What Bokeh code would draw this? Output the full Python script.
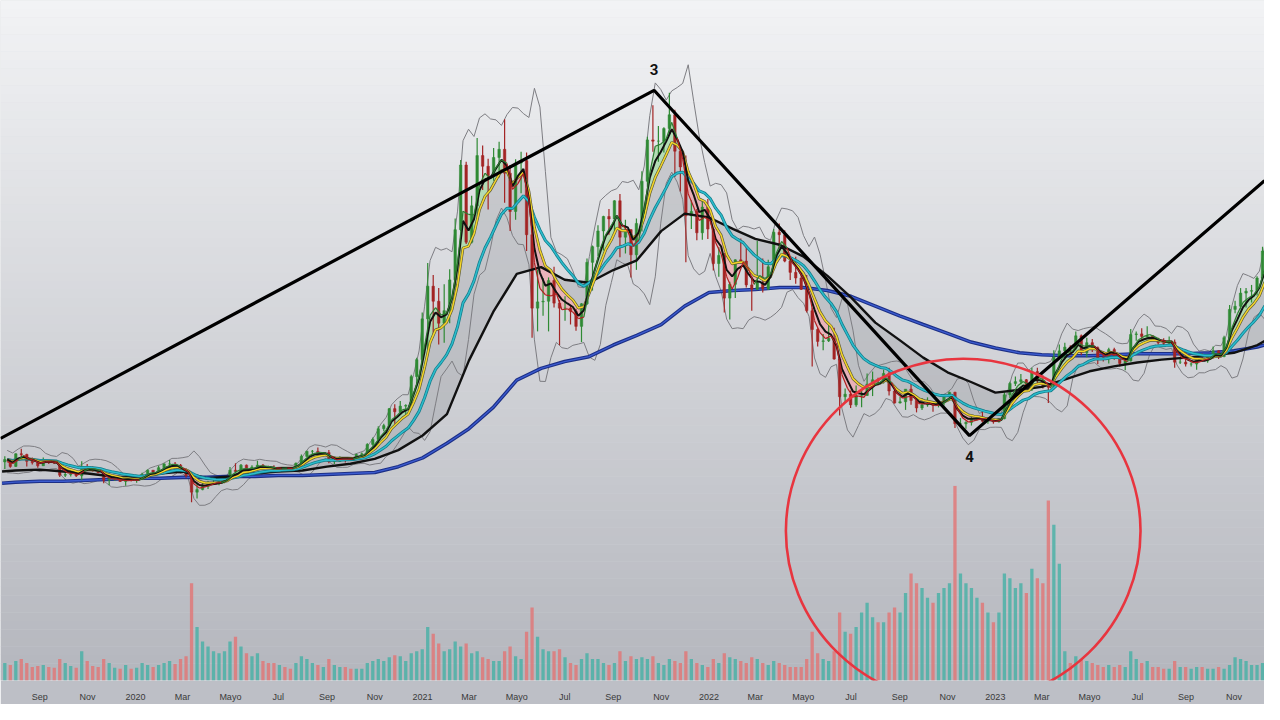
import numpy as np
import pandas as pd
from bokeh.plotting import figure
from bokeh.models import Range1d, LinearAxis, FixedTicker, ColumnDataSource
from bokeh.core.properties import value
from bokeh.embed import file_html
from bokeh.resources import INLINE

# ---------------- data (BTC, weekly, thousands of USD) ----------------
first_week = "2019-07-15"
first_open = 10.2

close_2019 = [10.6, 9.5, 11.5, 11.4, 10.3, 10.1, 9.6, 10.4, 10.3, 10.0, 8.1, 8.2, 8.3, 8.0, 9.5, 9.2, 8.8, 8.5, 7.3, 7.5, 7.5, 7.1, 7.5, 7.3, 7.4]
high_2019 = [11.1, 10.6, 11.6, 12.3, 11.5, 10.9, 10.6, 10.9, 10.5, 10.4, 10.0, 8.5, 8.7, 8.4, 10.3, 9.9, 9.5, 9.2, 8.6, 7.8, 7.6, 7.6, 7.6, 7.7, 7.6]
low_2019 = [9.1, 9.3, 9.4, 11.0, 9.5, 9.8, 9.3, 9.6, 9.9, 9.9, 7.8, 7.8, 7.9, 7.8, 7.3, 9.0, 8.7, 8.4, 6.8, 6.5, 7.2, 7.0, 6.4, 7.1, 6.9]

close_2020 = [8.2, 8.9, 8.6, 9.3, 9.9, 9.9, 9.7, 8.5, 8.0, 5.4, 5.8, 6.3, 6.8, 6.9, 7.1, 7.7, 8.9, 8.7, 9.7, 8.9, 9.4, 9.7, 9.4, 9.3, 9.0, 9.3, 9.25, 9.2, 10.0, 11.1, 11.9, 11.9, 11.6, 11.7, 10.3, 10.3, 10.9, 10.8, 10.7, 11.4, 11.5, 13.0, 13.8, 15.5, 16.0, 18.7, 18.2, 19.1, 19.2, 23.8, 26.5, 33.0]
high_2020 = [8.5, 9.0, 8.9, 9.6, 10.0, 10.5, 10.2, 9.9, 9.2, 8.1, 6.9, 6.9, 7.2, 7.5, 7.2, 7.8, 9.4, 10.0, 9.9, 9.8, 9.7, 10.4, 9.9, 9.6, 9.7, 9.3, 9.4, 9.3, 10.1, 11.4, 12.0, 12.1, 12.5, 11.8, 12.1, 10.6, 11.1, 11.0, 10.9, 11.5, 11.7, 13.2, 14.1, 15.9, 16.3, 18.8, 19.4, 19.9, 19.4, 24.1, 26.8, 34.0]
low_2020 = [7.4, 8.1, 8.3, 8.3, 9.1, 9.7, 9.3, 8.4, 7.7, 3.8, 4.4, 5.7, 5.9, 6.7, 6.5, 6.8, 7.6, 8.6, 8.2, 8.8, 8.6, 9.3, 9.2, 9.2, 8.9, 8.9, 9.1, 9.0, 9.1, 10.0, 11.0, 11.2, 11.3, 11.1, 10.0, 9.9, 10.2, 10.1, 10.4, 10.6, 11.2, 11.4, 12.8, 13.2, 15.1, 15.8, 16.3, 18.0, 17.6, 19.0, 22.4, 26.1]

close_2021 = [38.2, 35.8, 32.3, 34.3, 39.2, 47.2, 57.5, 45.2, 51.0, 59.0, 57.3, 55.8, 58.7, 60.0, 56.2, 50.1, 57.8, 58.2, 46.4, 34.7, 35.7, 35.8, 39.1, 35.5, 34.7, 34.7, 34.2, 31.8, 35.4, 42.0, 44.5, 47.0, 49.3, 48.9, 51.8, 46.0, 47.2, 43.2, 48.2, 54.9, 61.5, 61.3, 61.3, 63.3, 65.5, 59.7, 57.2, 49.4, 50.1, 46.7, 50.8, 47.3]
high_2021 = [41.9, 40.0, 37.9, 38.5, 40.9, 49.0, 58.3, 58.0, 52.6, 61.8, 60.6, 58.5, 60.2, 61.2, 64.8, 57.5, 58.4, 59.6, 59.5, 46.0, 40.8, 39.5, 39.6, 41.3, 36.0, 36.6, 35.1, 34.6, 35.5, 42.6, 44.7, 47.9, 49.4, 50.5, 51.9, 52.9, 48.8, 47.3, 49.0, 56.5, 62.0, 67.0, 63.7, 63.5, 69.0, 66.3, 59.8, 59.0, 51.9, 50.5, 51.9, 52.1]
low_2021 = [28.0, 30.4, 28.9, 29.2, 32.3, 38.0, 47.0, 44.9, 45.0, 49.3, 53.5, 50.4, 55.0, 55.5, 51.5, 47.0, 48.8, 53.0, 43.8, 30.0, 31.0, 33.5, 31.0, 34.8, 28.8, 32.7, 32.1, 31.1, 29.3, 35.2, 37.5, 43.0, 43.9, 46.4, 46.8, 42.8, 43.4, 39.6, 40.8, 46.9, 53.9, 59.6, 58.0, 59.5, 62.3, 55.6, 53.3, 42.0, 47.3, 45.5, 45.6, 45.7]

close_2022 = [41.8, 43.1, 36.3, 38.5, 42.4, 42.2, 38.4, 37.7, 38.8, 37.8, 41.3, 46.8, 46.4, 42.2, 40.4, 39.5, 37.7, 34.3, 31.3, 29.4, 29.5, 29.9, 26.6, 20.6, 21.0, 19.3, 20.8, 20.8, 22.6, 23.3, 23.2, 24.3, 21.5, 19.6, 19.8, 21.8, 20.0, 18.8, 19.3, 19.4, 19.2, 19.6, 20.6, 21.3, 16.3, 16.3, 16.5, 17.1, 17.1, 16.7, 16.8, 16.6]
high_2022 = [47.5, 44.4, 43.5, 38.9, 42.5, 45.8, 44.7, 39.8, 45.4, 42.6, 42.4, 47.3, 48.2, 47.1, 42.4, 42.9, 40.8, 40.0, 34.7, 31.5, 30.6, 32.2, 31.6, 26.9, 21.9, 21.6, 22.4, 21.5, 24.3, 24.6, 23.6, 24.9, 25.2, 21.9, 20.6, 21.8, 22.8, 19.9, 20.4, 20.5, 19.6, 19.7, 21.0, 21.4, 21.4, 17.2, 16.7, 17.4, 17.4, 18.4, 17.0, 16.9]
low_2022 = [40.7, 39.7, 34.0, 32.9, 36.3, 41.8, 38.0, 34.3, 37.6, 37.2, 37.6, 40.9, 44.3, 42.0, 39.2, 38.6, 37.6, 34.0, 25.4, 28.6, 28.0, 29.3, 26.5, 17.6, 19.7, 18.8, 19.0, 18.9, 20.7, 20.7, 22.4, 22.7, 20.8, 19.5, 19.5, 18.5, 19.3, 18.1, 18.5, 19.0, 18.2, 18.9, 19.2, 20.0, 15.6, 15.8, 15.5, 16.0, 16.8, 16.5, 16.3, 16.3]

close_2023 = [17.1, 20.9, 22.7, 23.0, 23.3, 21.8, 24.6, 23.2, 22.4, 22.1, 26.9, 27.9, 28.5, 28.3, 30.3, 27.6, 29.2, 28.4, 26.8, 26.7, 28.1, 27.1, 25.9, 26.3, 30.5, 30.6, 30.2, 30.3, 29.8, 29.2, 29.1, 29.3, 26.1, 26.1, 25.8, 25.8, 26.5, 26.3, 27.0, 27.9, 27.0, 30.0, 34.5, 35.0, 37.1, 37.4, 37.5, 39.5, 43.8]
high_2023 = [17.2, 21.3, 23.0, 23.8, 24.2, 23.4, 25.2, 25.2, 24.0, 22.6, 28.0, 28.9, 29.2, 28.8, 31.0, 30.5, 30.0, 29.8, 28.6, 27.6, 28.4, 28.4, 27.4, 26.8, 31.4, 31.0, 31.5, 31.8, 30.4, 30.0, 29.9, 30.2, 29.7, 26.8, 28.1, 26.1, 27.0, 27.5, 27.2, 28.6, 28.0, 30.3, 35.2, 35.9, 37.9, 37.9, 38.4, 39.8, 44.5]
low_2023 = [16.5, 17.0, 20.4, 22.3, 22.6, 21.4, 21.5, 22.8, 21.9, 19.6, 21.8, 26.6, 26.6, 27.2, 28.0, 27.2, 26.9, 27.7, 25.8, 26.2, 25.9, 26.5, 25.4, 24.8, 26.2, 29.5, 29.7, 29.9, 29.6, 28.9, 28.7, 28.7, 25.2, 25.8, 25.4, 25.4, 24.9, 26.2, 26.0, 27.2, 26.6, 26.9, 29.7, 33.9, 34.5, 34.8, 35.6, 36.7, 39.5]

# weekly volume (relative units)
vol_2019 = [18, 16, 20, 22, 18, 14, 15, 16, 14, 13, 22, 18, 15, 13, 30, 20, 15, 14, 22, 18, 13, 12, 16, 12, 13]
vol_2020 = [18, 16, 14, 16, 18, 20, 17, 22, 25, 100, 55, 40, 35, 30, 28, 30, 40, 45, 35, 28, 25, 28, 20, 18, 18, 16, 14, 12, 18, 25, 22, 18, 16, 14, 22, 16, 14, 14, 12, 12, 12, 18, 20, 22, 20, 24, 26, 25, 20, 28, 30, 32]
vol_2021 = [55, 48, 38, 30, 32, 40, 35, 38, 28, 30, 24, 22, 20, 20, 30, 35, 25, 22, 50, 75, 45, 32, 30, 30, 32, 24, 18, 16, 22, 28, 22, 22, 18, 16, 18, 30, 20, 25, 22, 24, 22, 25, 18, 16, 22, 20, 18, 30, 22, 18, 16, 14]
vol_2022 = [22, 18, 28, 24, 22, 20, 18, 24, 22, 18, 16, 20, 18, 16, 14, 14, 14, 22, 50, 28, 22, 20, 30, 70, 50, 48, 55, 70, 80, 65, 60, 60, 70, 75, 70, 90, 110, 100, 95, 85, 80, 90, 95, 100, 200, 110, 100, 95, 85, 80, 70, 60]
vol_2023 = [70, 110, 105, 95, 100, 90, 115, 105, 100, 185, 160, 120, 30, 18, 25, 22, 20, 18, 16, 14, 16, 14, 16, 14, 30, 22, 18, 20, 14, 14, 12, 12, 20, 14, 14, 12, 14, 14, 12, 12, 14, 12, 16, 24, 22, 20, 16, 16, 18]

# slow averages (monthly points)
slow_dates = ["2019-07-15", "2019-08-01", "2019-09-01", "2019-10-01", "2019-11-01", "2019-12-01",
              "2020-01-01", "2020-02-01", "2020-03-01", "2020-04-01", "2020-05-01", "2020-06-01",
              "2020-07-01", "2020-08-01", "2020-09-01", "2020-10-01", "2020-11-01", "2020-12-01",
              "2021-01-01", "2021-02-01", "2021-03-01", "2021-04-01", "2021-05-01", "2021-06-01",
              "2021-07-01", "2021-08-01", "2021-09-01", "2021-10-01", "2021-11-01", "2021-12-01",
              "2022-01-01", "2022-02-01", "2022-03-01", "2022-04-01", "2022-05-01", "2022-06-01",
              "2022-07-01", "2022-08-01", "2022-09-01", "2022-10-01", "2022-11-01", "2022-12-01",
              "2023-01-01", "2023-02-01", "2023-03-01", "2023-04-01", "2023-05-01", "2023-06-01",
              "2023-07-01", "2023-08-01", "2023-09-01", "2023-10-01", "2023-11-01", "2023-12-01",
              "2023-12-10"]
ma_long = [6.82, 6.98, 7.13, 7.13, 7.29, 7.44, 7.60, 7.60, 7.75, 7.75, 7.91, 7.91, 8.06, 8.06,
           8.22, 8.37, 8.53, 9.46, 10.85, 13.18, 15.5, 18.91, 23.25, 25.11, 26.2, 26.97, 28.83,
           30.38, 32.09, 35.03, 37.2, 37.51, 37.67, 37.98, 37.98, 37.51, 36.58, 35.03, 33.48,
           32.09, 30.69, 29.30, 28.37, 27.59, 27.28, 27.13, 27.13, 27.28, 27.44, 27.44, 27.44,
           27.59, 27.9, 28.52, 28.83]
ma_slow = [8.68, 8.84, 8.99, 8.68, 8.37, 7.91, 7.75, 8.37, 8.68, 7.60, 7.91, 8.37, 8.68, 8.84,
           9.46, 9.92, 10.70, 12.09, 14.42, 17.83, 26.35, 34.1, 40.15, 41.23, 39.22, 38.75,
           40.77, 42.32, 46.97, 49.76, 49.14, 47.28, 45.73, 44.80, 42.94, 39.84, 36.43, 32.40,
           29.61, 26.82, 24.49, 22.94, 21.24, 21.7, 22.17, 23.41, 24.65, 25.42, 26.04, 26.51,
           26.82, 27.13, 27.59, 28.83, 29.45]

# Elliott wave points
wave_dates = ["2019-07-13", "2021-10-23", "2022-11-29", "2023-12-10"]
wave_prices = [13.95, 69.4, 14.4, 55.0]
wave_labels = ["3", "4"]

# highlight circle on the volume
circle_date = "2022-11-21"
circle_price = -0.8
circle_days = 452
circle_height = 54.9

tick_dates = ["2019-09-01", "2019-11-01", "2020-01-01", "2020-03-01", "2020-05-01", "2020-07-01",
              "2020-09-01", "2020-11-01", "2021-01-01", "2021-03-01", "2021-05-01", "2021-07-01",
              "2021-09-01", "2021-11-01", "2022-01-01", "2022-03-01", "2022-05-01", "2022-07-01",
              "2022-09-01", "2022-11-01", "2023-01-01", "2023-03-01", "2023-05-01", "2023-07-01",
              "2023-09-01", "2023-11-01"]
tick_labels = ["Sep", "Nov", "2020", "Mar", "Mayo", "Jul", "Sep", "Nov", "2021", "Mar", "Mayo", "Jul",
               "Sep", "Nov", "2022", "Mar", "Mayo", "Jul", "Sep", "Nov", "2023", "Mar", "Mayo", "Jul",
               "Sep", "Nov"]

view_start, view_end = "2019-07-13", "2023-12-10"
price_lo, price_hi = -24.6, 83.7

# ---------------- derived ----------------
closes = np.array(close_2019 + close_2020 + close_2021 + close_2022 + close_2023)
highs = np.array(high_2019 + high_2020 + high_2021 + high_2022 + high_2023)
lows = np.array(low_2019 + low_2020 + low_2021 + low_2022 + low_2023)
vols = np.array(vol_2019 + vol_2020 + vol_2021 + vol_2022 + vol_2023, dtype=float)
n = len(closes)
assert len(highs) == n and len(lows) == n and len(vols) == n, (n, len(highs), len(lows), len(vols))
assert len(ma_long) == len(slow_dates) and len(ma_slow) == len(slow_dates)

ORIGIN = pd.Timestamp("2020-01-01")


def to_days(d):
    return np.asarray((pd.to_datetime(d) - ORIGIN) / pd.Timedelta(days=1), dtype=float)


weeks = pd.date_range(first_week, periods=n, freq="7D")
xw = to_days(weeks) + 3.5
xc = xw + 3.0            # indicator points sit at the weekly close
opens = np.concatenate([[first_open], closes[:-1]])
up = closes >= opens

cs = pd.Series(closes)
mid_price = pd.Series((highs + lows + closes) / 3.0)
fast = mid_price.ewm(span=2.0, adjust=False).mean().to_numpy()
ema_b = cs.ewm(span=3.4, adjust=False).mean().to_numpy()
ema_y = cs.ewm(span=5.5, adjust=False).mean().to_numpy()
ema_t = cs.ewm(span=12.5, adjust=False).mean().to_numpy()

H, L, C = pd.Series(highs), pd.Series(lows), cs
w = 4
m = (H.rolling(w, min_periods=1).mean() + L.rolling(w, min_periods=1).mean() + C.rolling(w, min_periods=1).mean()) / 3
sq = ((H ** 2).rolling(w, min_periods=1).mean() + (L ** 2).rolling(w, min_periods=1).mean()
      + (C ** 2).rolling(w, min_periods=1).mean()) / 3
sd = np.sqrt(np.clip((sq - m ** 2).to_numpy(), 0, None))
band_up = m.to_numpy() + 2.1 * sd
band_dn = m.to_numpy() - 2.1 * sd

xs = to_days(slow_dates)
x0, x1 = float(to_days(view_start)), float(to_days(view_end))

# ---------------- figure ----------------
p = figure(width=1264, height=704, x_range=Range1d(x0, x1), y_range=Range1d(price_lo, price_hi),
           output_backend="svg", toolbar_location=None, x_axis_type=None, y_axis_type=None,
           min_border=0)
p.extra_y_ranges = {"vol": Range1d(0, 699)}
p.grid.visible = False
p.outline_line_color = None
p.background_fill_color = "#d8d9de"
p.border_fill_color = "#bdbfc6"

# gradient background
nb = 80
edges = np.linspace(price_lo, price_hi, nb + 1)
t = np.linspace(0, 1, nb)
top_c = np.array([242, 243, 245])
bot_c = np.array([181, 183, 190])
cols = ["#%02x%02x%02x" % tuple((bot_c + (top_c - bot_c) * ti).astype(int)) for ti in t]
p.quad(left=x0, right=x1, bottom=edges[:-1], top=edges[1:] + 0.05, fill_color=cols, line_color=None)

# volume
vcol = np.where(up, "#45b0a5", "#e27474")
p.vbar(x=xw, width=4.2, top=vols, bottom=0, y_range_name="vol", fill_color=vcol,
       line_color=None, fill_alpha=0.8)

# gray ribbon between yellow and slow average
p.patch(np.concatenate([xc, xs[::-1]]), np.concatenate([ema_y, np.array(ma_slow)[::-1]]),
        fill_color="#9c9da3", fill_alpha=0.38, line_color=None)
# green / red ribbon
p.varea(x=xc, y1=ema_y, y2=np.maximum(fast, ema_y), fill_color="#9fd89f", fill_alpha=0.7)
p.varea(x=xc, y1=ema_y, y2=np.minimum(fast, ema_y), fill_color="#f2a2aa", fill_alpha=0.7)

# bands
p.line(xc, band_up, line_color="#7d7d82", line_width=1)
p.line(xc, band_dn, line_color="#7d7d82", line_width=1)

# long average (blue)
p.line(xs, ma_long, line_color="#1c2f86", line_width=3.6)
p.line(xs, ma_long, line_color="#3c5cd0", line_width=1.3)

# candles
ccol = np.where(up, "#2f8a34", "#a32424")
p.segment(x0=xw, y0=lows, x1=xw, y1=highs, line_color=ccol, line_width=1.2)
p.vbar(x=xw, width=3.2, top=np.maximum(opens, closes), bottom=np.minimum(opens, closes),
       fill_color=ccol, line_color=ccol, line_width=0.5)

# averages
p.line(xs, ma_slow, line_color="#111111", line_width=2.4)
p.line(xc, ema_t, line_color="#127c8a", line_width=3.0)
p.line(xc, ema_t, line_color="#2cbccc", line_width=1.5)
p.line(xc, ema_y, line_color="#5d5a34", line_width=2.8)
p.line(xc, ema_y, line_color="#f4d628", line_width=1.5)
p.line(xc, ema_b, line_color="#111111", line_width=2.0)
fcol = np.where(fast[1:] >= ema_y[1:], "#2e7d32", "#b02020")
p.segment(x0=xc[:-1], y0=fast[:-1], x1=xc[1:], y1=fast[1:], line_color=fcol, line_width=1.2)

# wave lines
p.line(to_days(wave_dates), wave_prices, line_color="#000000", line_width=3.2)
lab = ColumnDataSource(dict(x=to_days(wave_dates[1:3]), y=wave_prices[1:3], text=wave_labels,
                            off=[-21, 21]))
p.text(x="x", y="y", text="text", y_offset="off", source=lab, text_font=value("Roboto"),
       text_font_size="15px", text_font_style="bold", text_color="#111111",
       text_align="center", text_baseline="middle")

# highlight circle
p.ellipse(x=[float(to_days(circle_date))], y=[circle_price], width=circle_days, height=circle_height,
          fill_color=None, line_color="#e8353f", line_width=2.6)

# x axis
tx = [float(v) for v in to_days(tick_dates)]
xaxis = LinearAxis(ticker=FixedTicker(ticks=tx))
xaxis.major_label_overrides = {v: s for v, s in zip(tx, tick_labels)}
xaxis.axis_line_color = None
xaxis.major_tick_line_color = None
xaxis.minor_tick_line_color = None
xaxis.major_label_text_font = "Liberation Sans"
xaxis.major_label_text_font_size = "9px"
xaxis.major_label_text_color = "#3a3a3a"
xaxis.major_label_standoff = 5
p.add_layout(xaxis, "below")

open("out.html", "w").write(file_html(p, INLINE))
